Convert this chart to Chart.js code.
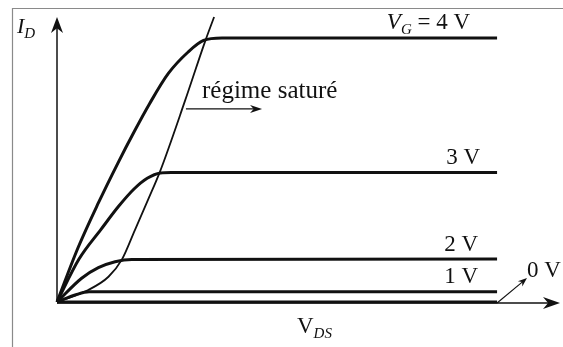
<!DOCTYPE html>
<html><head><meta charset="utf-8">
<script src="https://cdn.jsdelivr.net/npm/chart.js@4/dist/chart.umd.min.js"></script>
<style>html,body{margin:0;padding:0;background:#fff}</style>
</head><body>
<canvas id="c" width="563" height="347"></canvas>
<script>
// Drain current I_D (arbitrary units) vs V_DS (arbitrary units)
const vds4 = [0, 0.48, 0.94, 1.39, 1.75, 2.1, 2.53, 2.98, 3.33, 3.75, 10];
const id4  = [0, 3.3, 6.0, 8.45, 10.3, 12.0, 13.85, 15.15, 15.85, 16.0, 16.0];
const vds3 = [0, 0.5, 1.0, 1.4, 1.75, 2.05, 2.35, 2.6, 10];
const id3  = [0, 2.6, 4.4, 5.8, 6.85, 7.5, 7.82, 7.85, 7.85];
const vds2 = [0, 0.56, 0.94, 1.32, 1.70, 10];
const id2  = [0, 1.44, 2.08, 2.44, 2.58, 2.6];
const vds1 = [0, 0.43, 0.73, 10];
const id1  = [0, 0.44, 0.62, 0.62];
const vds0 = [0, 10];
const id0  = [0, 0];
// saturation boundary (pinch-off locus)
const vdsSat = [0, 0.71, 1.17, 1.47, 1.77, 2.07, 2.34, 2.91, 3.36, 3.57];
const idSat  = [0, 0.73, 1.53, 2.55, 4.36, 6.2, 7.9, 12.2, 15.75, 17.27];
// curve labels
const curveLabels = ['V_G = 4 V', '3 V', '2 V', '1 V', '0 V'];
const xMax = 11.43, yMax = 17.27;

const pts = (xs, ys) => xs.map((x, i) => ({x, y: ys[i]}));
const INK = '#111';
const curve = (xs, ys, w) => ({
  data: pts(xs, ys), borderColor: INK, borderWidth: w, pointRadius: 0,
  cubicInterpolationMode: 'monotone', fill: false, clip: false
});

function drawRich(ctx, x, y, parts) {
  let cx = x;
  for (const p of parts) {
    ctx.font = (p.it ? 'italic ' : '') + p.s + 'px "Liberation Serif", "DejaVu Serif", serif';
    ctx.fillText(p.t, cx, y + (p.dy || 0));
    cx += ctx.measureText(p.t).width;
  }
  return cx - x;
}
function arrowHead(ctx, x, y, ang, len, half) {
  ctx.save();
  ctx.translate(x, y); ctx.rotate(ang);
  ctx.beginPath();
  ctx.moveTo(0, 0);
  ctx.lineTo(-len, -half);
  ctx.lineTo(-len * 0.7, 0);
  ctx.lineTo(-len, half);
  ctx.closePath();
  ctx.fill();
  ctx.restore();
}

const decor = {
  id: 'decor',
  beforeDatasetsDraw(chart) {
    const ctx = chart.ctx, xs = chart.scales.x, ys = chart.scales.y;
    const x0 = xs.getPixelForValue(0), y0 = ys.getPixelForValue(0);
    ctx.save();
    // scanned frame
    ctx.strokeStyle = '#8a8a8a'; ctx.lineWidth = 1.2;
    ctx.beginPath(); ctx.moveTo(12.5, 347); ctx.lineTo(12.5, 8.5); ctx.lineTo(563, 8.5); ctx.stroke();
    // axes
    ctx.strokeStyle = INK; ctx.fillStyle = INK; ctx.lineWidth = 1.5;
    const xEnd = xs.getPixelForValue(xMax), yEnd = ys.getPixelForValue(yMax);
    ctx.beginPath(); ctx.moveTo(x0, y0 + 1); ctx.lineTo(xEnd - 6, y0 + 1); ctx.stroke();
    arrowHead(ctx, xEnd, y0 + 1, 0, 17, 6);
    ctx.beginPath(); ctx.moveTo(x0, y0); ctx.lineTo(x0, yEnd + 6); ctx.stroke();
    arrowHead(ctx, x0, yEnd, -Math.PI / 2, 16, 6);
    ctx.restore();
  },
  afterDatasetsDraw(chart) {
    const ctx = chart.ctx, xs = chart.scales.x, ys = chart.scales.y;
    const X = v => xs.getPixelForValue(v), Y = v => ys.getPixelForValue(v);
    ctx.save();
    ctx.fillStyle = INK; ctx.strokeStyle = INK; ctx.textBaseline = 'alphabetic';
    // axis titles
    drawRich(ctx, X(0) - 40, Y(yMax) + 16, [{t: 'I', it: true, s: 22}, {t: 'D', it: true, s: 15, dy: 5}]);
    drawRich(ctx, 297, Y(0) + 31, [{t: 'V', s: 23}, {t: 'DS', it: true, s: 15, dy: 5}]);
    // curve labels (right-aligned just before end of curves)
    const endX = X(10);
    const lab = (parts, yv, off, gap) => {
      ctx.save();
      ctx.globalAlpha = 0;
      const w = drawRich(ctx, 0, -100, parts);
      ctx.restore();
      drawRich(ctx, endX - gap - w, Y(yv) - off, parts);
    };
    lab([{t: 'V', it: true, s: 23}, {t: 'G', it: true, s: 15, dy: 5}, {t: ' = 4 V', s: 23}], id4[id4.length - 1], 9, 27);
    lab([{t: '3 V', s: 23}], id3[id3.length - 1], 8, 17);
    lab([{t: '2 V', s: 23}], id2[id2.length - 1], 8, 19);
    lab([{t: '1 V', s: 23}], id1[id1.length - 1], 9, 19);
    // 0 V pointer
    ctx.lineWidth = 1.1;
    const ax = X(10), ay = Y(0) + 1, bx = X(10.68), by = Y(1.45);
    ctx.beginPath(); ctx.moveTo(ax, ay); ctx.lineTo(bx - 3, by + 2.5); ctx.stroke();
    arrowHead(ctx, bx, by, Math.atan2(by - ay, bx - ax), 9, 3.5);
    drawRich(ctx, 527, 277, [{t: '0 V', s: 23}]);
    // régime saturé
    drawRich(ctx, 202, 98, [{t: 'régime saturé', s: 25}]);
    const ry = Y(11.7);
    ctx.beginPath(); ctx.moveTo(X(2.93), ry); ctx.lineTo(X(4.66) - 6, ry); ctx.stroke();
    arrowHead(ctx, X(4.66), ry, 0, 12, 4);
    ctx.restore();
  }
};

new Chart(document.getElementById('c'), {
  type: 'scatter',
  data: {
    datasets: [
      Object.assign(curve(vds4, id4, 3), {label: curveLabels[0], showLine: true}),
      Object.assign(curve(vds3, id3, 3), {label: curveLabels[1], showLine: true}),
      Object.assign(curve(vds2, id2, 3), {label: curveLabels[2], showLine: true}),
      Object.assign(curve(vds1, id1, 3), {label: curveLabels[3], showLine: true}),
      Object.assign(curve(vds0, id0, 3), {label: curveLabels[4], showLine: true}),
      Object.assign(curve(vdsSat, idSat, 1.8), {label: 'saturation', showLine: true})
    ]
  },
  options: {
    responsive: false, animation: false, devicePixelRatio: 1,
    layout: {padding: {left: 57, right: 3, top: 17, bottom: 45}},
    plugins: {legend: {display: false}, tooltip: {enabled: false}},
    scales: {
      x: {type: 'linear', min: 0, max: xMax, display: false},
      y: {type: 'linear', min: 0, max: yMax, display: false}
    }
  },
  plugins: [decor]
});
</script>
</body></html>
